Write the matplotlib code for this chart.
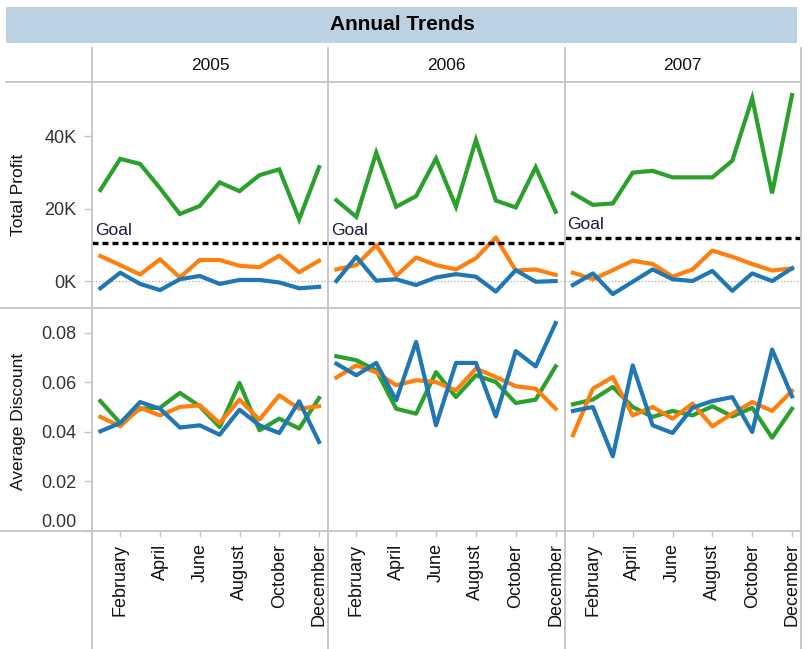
import matplotlib.pyplot as plt
from matplotlib.lines import Line2D
from matplotlib.patches import Rectangle
from matplotlib.ticker import FuncFormatter

plt.rcParams['font.family'] = ['Liberation Sans', 'DejaVu Sans']

years = ['2005', '2006', '2007']
months = list(range(1, 13))
month_ticks = [2, 4, 6, 8, 10, 12]
month_labels = ['February', 'April', 'June', 'August', 'October', 'December']

# total profit, in K
profit_green = [
	[25.1, 33.7, 32.3, 25.6, 18.5, 20.7, 27.2, 24.8, 29.2, 30.8, 17.0, 31.4],
	[22.3, 17.7, 35.4, 20.5, 23.4, 33.8, 20.5, 38.9, 22.2, 20.3, 31.4, 19.1],
	[24.2, 21.0, 21.4, 29.9, 30.4, 28.6, 28.6, 28.6, 33.2, 50.4, 24.2, 51.3],
]
profit_orange = [
	[6.9, 4.4, 1.8, 6.0, 1.0, 5.8, 5.8, 4.2, 3.8, 7.0, 2.4, 5.6],
	[3.2, 4.4, 9.9, 1.4, 6.5, 4.4, 3.2, 6.3, 12.0, 2.9, 3.2, 1.7],
	[2.3, 0.5, 3.0, 5.6, 4.7, 1.2, 3.2, 8.4, 6.7, 4.7, 2.9, 3.5],
]
profit_blue = [
	[-2.0, 2.3, -0.8, -2.5, 0.5, 1.4, -0.8, 0.3, 0.3, -0.4, -2.0, -1.6],
	[0.0, 6.7, 0.1, 0.5, -1.1, 1.0, 1.9, 1.2, -2.9, 3.0, -0.2, 0.0],
	[-1.1, 2.1, -3.6, -0.2, 3.2, 0.5, 0.0, 2.8, -2.7, 2.1, 0.0, 3.5],
]
goal = [10.4, 10.4, 11.8]

discount_green = [
	[0.0525, 0.0436, 0.0494, 0.0498, 0.0558, 0.0504, 0.0420, 0.0598, 0.0407, 0.0454, 0.0414, 0.0537],
	[0.0706, 0.0690, 0.0649, 0.0494, 0.0474, 0.0642, 0.0541, 0.0629, 0.0602, 0.0517, 0.0531, 0.0665],
	[0.0512, 0.0531, 0.0582, 0.0501, 0.0461, 0.0485, 0.0467, 0.0504, 0.0463, 0.0498, 0.0377, 0.0494],
]
discount_orange = [
	[0.0461, 0.0423, 0.0498, 0.0467, 0.0501, 0.0508, 0.0436, 0.0531, 0.0450, 0.0548, 0.0494, 0.0504],
	[0.0620, 0.0669, 0.0642, 0.0589, 0.0609, 0.0602, 0.0568, 0.0656, 0.0622, 0.0585, 0.0575, 0.0494],
	[0.0387, 0.0575, 0.0622, 0.0467, 0.0501, 0.0454, 0.0515, 0.0423, 0.0474, 0.0521, 0.0485, 0.0566],
]
discount_blue = [
	[0.0403, 0.0436, 0.0521, 0.0494, 0.0418, 0.0427, 0.0389, 0.0490, 0.0427, 0.0396, 0.0524, 0.0360],
	[0.0676, 0.0629, 0.0679, 0.0528, 0.0764, 0.0427, 0.0679, 0.0679, 0.0463, 0.0727, 0.0665, 0.0840],
	[0.0485, 0.0501, 0.0302, 0.0669, 0.0427, 0.0396, 0.0498, 0.0525, 0.0541, 0.0400, 0.0733, 0.0544],
]

GREEN = '#2ca02c'
ORANGE = '#ff7f0e'
BLUE = '#1f77b4'
GRID = '#c4c4c4'
TXT = '#333333'

W, H = 807, 649
fig = plt.figure(figsize=(W / 100, H / 100), dpi=100)


def fx(x):
	return x / W


def fy(y):
	return 1 - y / H


def hline(y, x0, x1):
	fig.add_artist(Line2D([fx(x0), fx(x1)], [fy(y), fy(y)], color=GRID, lw=1.3))


def vline(x, y0, y1):
	fig.add_artist(Line2D([fx(x), fx(x)], [fy(y0), fy(y1)], color=GRID, lw=1.3))


# header
fig.add_artist(Rectangle((fx(6), fy(43)), fx(797) - fx(6), fy(7) - fy(43), color='#bcd2e2', lw=0))
fig.text(fx(402), fy(25), 'Annual Trends', ha='center', va='center', fontsize=15, fontweight='bold')

cols = [(92, 328), (328, 564.6), (564.6, 801)]
top_rows = (82, 307.5)
bot_rows = (307.5, 531)

hline(82, 6, 801)
hline(307.5, 0, 801)
hline(531, 0, 801)
for x in [92, 328, 564.6, 801]:
	vline(x, 48, 649)

for i, yr in enumerate(years):
	x0, x1 = cols[i]
	fig.text(fx((x0 + x1) / 2), fy(65), yr, ha='center', va='center', fontsize=12.5, color='#111111')

	# profit panel
	ax = fig.add_axes([fx(x0), fy(top_rows[1]), fx(x1) - fx(x0), fy(top_rows[0]) - fy(top_rows[1])])
	ax.axhline(0, color='#aaaaaa', lw=0.9, ls=':', zorder=1)
	ax.plot(months, profit_green[i], color=GREEN, lw=3, solid_joinstyle='miter', zorder=3)
	ax.plot(months, profit_orange[i], color=ORANGE, lw=3, zorder=3)
	ax.plot(months, profit_blue[i], color=BLUE, lw=3, zorder=4)
	gl = ax.axhline(goal[i], color='black', lw=2.4, zorder=5)
	gl.set_dashes([1.8, 1.2])
	ax.text(0.012, goal[i] + 1.6, 'Goal', transform=ax.get_yaxis_transform(), fontsize=12.5,
		color='#1a1a3a', ha='left', va='bottom',
		bbox=dict(facecolor='white', edgecolor='none', pad=1.0), zorder=6)
	ax.set_xlim(0.58, 12.45)
	ax.set_ylim(-7.3, 54.9)
	ax.set_xticks([])
	if i == 0:
		ax.set_yticks([0, 20, 40])
		ax.yaxis.set_major_formatter(FuncFormatter(lambda v, p: '%dK' % v))
		ax.tick_params(axis='y', length=6, width=1, color=GRID, pad=5, labelsize=13, labelcolor=TXT)
	else:
		ax.set_yticks([])
	for s in ax.spines.values():
		s.set_visible(False)

	# discount panel
	bx = fig.add_axes([fx(x0), fy(bot_rows[1]), fx(x1) - fx(x0), fy(bot_rows[0]) - fy(bot_rows[1])])
	bx.plot(months, discount_green[i], color=GREEN, lw=3, zorder=3)
	bx.plot(months, discount_orange[i], color=ORANGE, lw=3, zorder=3)
	bx.plot(months, discount_blue[i], color=BLUE, lw=3, zorder=4)
	bx.set_xlim(0.58, 12.45)
	bx.set_ylim(0, 0.0903)
	bx.set_xticks(month_ticks)
	bx.set_xticklabels(month_labels, rotation=90, va='top', ha='center')
	bx.tick_params(axis='x', length=4, width=1, color=GRID, pad=5, labelsize=13, labelcolor='#111111')
	if i == 0:
		bx.set_yticks([0, 0.02, 0.04, 0.06, 0.08])
		bx.set_yticklabels(['0.00', '0.02', '0.04', '0.06', '0.08'])
		bx.tick_params(axis='y', length=6, width=1, color=GRID, pad=5, labelsize=13, labelcolor=TXT)
		bx.get_yticklabels()[0].set_va('bottom')
	else:
		bx.set_yticks([])
	for s in bx.spines.values():
		s.set_visible(False)

fig.text(fx(19), fy(195), 'Total Profit', rotation=90, ha='center', va='center', fontsize=12.5, color='#111111')
fig.text(fx(19), fy(421), 'Average Discount', rotation=90, ha='center', va='center', fontsize=12.5, color='#111111')

fig.savefig('out.png', dpi=100)
